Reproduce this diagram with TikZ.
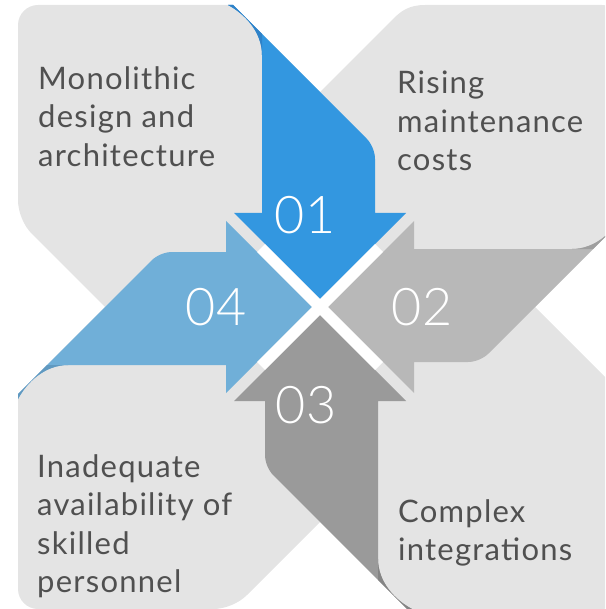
\documentclass[tikz,border=0pt]{standalone}
\usepackage{fontspec}
\setmainfont{Lato}[LetterSpace=4]
\newfontfamily\numfont{Lato Light}
\definecolor{bgg}{HTML}{E4E4E4}
\definecolor{cA}{HTML}{3397E0}
\definecolor{cAd}{HTML}{2F82C8}
\definecolor{cB}{HTML}{B8B8B8}
\definecolor{cBd}{HTML}{9F9F9F}
\definecolor{cC}{HTML}{9A9A9A}
\definecolor{cCd}{HTML}{858585}
\definecolor{cD}{HTML}{70AFD8}
\definecolor{cDd}{HTML}{6099C0}
\definecolor{txtc}{HTML}{505050}
\newcommand\arrowfill[2]{%
  \fill[#1] (228,5) -- (233,5) -- (366.5,138.5) .. controls (371.6,143.6) and (375,152) .. (375,159)
    -- (375,213) -- (406,213) -- (320,299) -- (234,213) -- (262,213) -- (262,55)
    .. controls (262,32) and (245,14) .. (228,5) -- cycle;
  \fill[#2] (228,5) -- (233,5) -- (262,34) -- (262,55) .. controls (262,32) and (245,14) .. (228,5) -- cycle;
}
\tikzset{
  txt/.style={font=\fontsize{31}{38.5}\selectfont, text=txtc, align=left, inner sep=0pt, anchor=north west},
  num/.style={font=\numfont\fontsize{52}{60}\selectfont, text=white, inner sep=0pt, anchor=center},
  gap/.style={white, line width=11pt}
}
\begin{document}
\begin{tikzpicture}[x=1pt,y=-1pt]
\useasboundingbox (0,0) rectangle (605,609);
\clip (0,0) rectangle (605,609);
\coordinate (C) at (320,307);
% gray background
\fill[bgg] (38,5) -- (233,5) -- (320,92) -- (393,19) .. controls (401,11) and (409,5) .. (425,5)
  -- (602,5) .. controls (613,5) and (622,14) .. (622,25)
  -- (622,220) -- (535,307) -- (608,380) .. controls (616.4,388.4) and (622,394) .. (622,402)
  -- (622,589) .. controls (622,600) and (613,609) .. (602,609)
  -- (407,609) -- (320,522) -- (247,595) .. controls (238.6,603.4) and (225,609) .. (213,609)
  -- (38,609) .. controls (27,609) and (18,600) .. (18,589)
  -- (18,394) -- (105,307) -- (32,234) .. controls (23.6,225.6) and (18,212) .. (18,200)
  -- (18,25) .. controls (18,14) and (27,5) .. (38,5) -- cycle;
% arrows
\arrowfill{cA}{cAd}
\begin{scope}[rotate around={-90:(C)}]\arrowfill{cB}{cBd}\end{scope}
\begin{scope}[rotate around={180:(C)}]\arrowfill{cC}{cCd}\end{scope}
\begin{scope}[rotate around={90:(C)}]\arrowfill{cD}{cDd}\end{scope}
% white gaps
\coordinate (g1) at (261,248);
\coordinate (g2) at (379,366);
\coordinate (g3) at (379,248);
\coordinate (g4) at (261,366);
\draw[gap] (g1) -- (g2);
\draw[gap] (g3) -- (g4);
% numbers
\node[num] (n1) at (305,215) {01};
\node[num] (n2) at (422,307) {02};
\node[num] (n3) at (306,405) {03};
\node[num] (n4) at (216,307) {04};
% texts
\node[txt] (t1) at (38,66) {Monolithic\\design and\\architecture};
\node[txt] (t2) at (397,71) {Rising\\maintenance\\costs};
\node[txt] (t3) at (37,454) {Inadequate\\availability of\\skilled\\personnel};
\node[txt] (t4) at (398,499) {Complex\\integrations};
\end{tikzpicture}
\end{document}
